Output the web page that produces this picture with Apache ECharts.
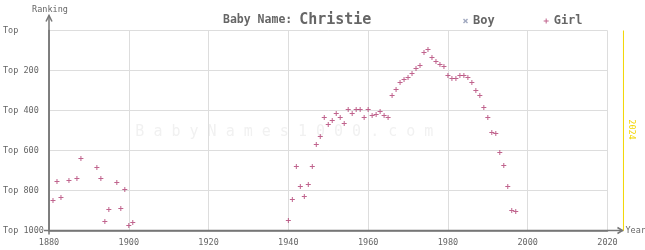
<!DOCTYPE html>
<html>
<head>
<meta charset="utf-8">
<script src="https://cdn.jsdelivr.net/npm/echarts@6/dist/echarts.min.js"></script>
<style>
  html, body { margin: 0; padding: 0; background: #fff; }
  #chart { width: 645px; height: 250px; }
</style>
</head>
<body>
<div id="chart"></div>
<script>
// rankings (Girl only, Boy never ranked)
const girlYears = [
  1881, 1882, 1883, 1885, 1887, 1888, 1892, 1893, 1894, 1895, 1897, 1898, 1899, 1900, 1901,
  1940, 1941, 1942, 1943, 1944, 1945, 1946, 1947, 1948, 1949,
  1950, 1951, 1952, 1953, 1954, 1955, 1956, 1957, 1958, 1959,
  1960, 1961, 1962, 1963, 1964, 1965, 1966, 1967, 1968, 1969,
  1970, 1971, 1972, 1973, 1974, 1975, 1976, 1977, 1978, 1979,
  1980, 1981, 1982, 1983, 1984, 1985, 1986, 1987, 1988, 1989,
  1990, 1991, 1992, 1993, 1994, 1995, 1996, 1997
]
const girlRanks = [
  850, 755, 835, 750, 740, 640, 685, 740, 955, 895, 760, 890, 795, 975, 960,
  950, 845, 680, 780, 830, 770, 680, 570, 530, 435,
  470, 450, 415, 435, 465, 395, 415, 395, 395, 435,
  395, 425, 420, 405, 425, 435, 325, 295, 260, 245,
  235, 215, 190, 175, 110, 95, 135, 155, 170, 180,
  225, 240, 240, 225, 225, 235, 260, 300, 325, 385,
  435, 510, 515, 610, 675, 780, 900, 905
]
const boyYears = []
const boyRanks = []
const currentYear = 2024

const FONT = 'DejaVu Sans Mono'
const GREY = '#666'
const AXIS = '#777'
const PLUS = 'path://M2 0h1v2h2v1h-2v2h-1v-2h-2v-1h2z'
const CROSS = 'path://M0 1L1 0L2.5 1.5L4 0L5 1L3.5 2.5L5 4L4 5L2.5 3.5L1 5L0 4L1.5 2.5Z'

const chart = echarts.init(document.getElementById('chart'), null, { renderer: 'canvas' })

chart.setOption({
  animation: false,
  title: {
    left: 218,
    top: 8,
    text: '{a|Baby Name: }{b|Christie}',
    textStyle: {
      rich: {
        a: { fontFamily: FONT, fontSize: 11.5, fontWeight: 'bold', color: GREY },
        b: { fontFamily: FONT, fontSize: 15, color: GREY }
      }
    }
  },
  legend: {
    left: 458,
    top: 10,
    itemWidth: 5,
    itemHeight: 5,
    itemGap: 49,
    textStyle: { fontFamily: FONT, fontSize: 12, fontWeight: 'bold', color: GREY },
    data: ['Boy', 'Girl']
  },
  grid: { left: 47.5, right: 37.5, top: 30.5, bottom: 19.5 },
  xAxis: {
    type: 'value',
    min: 1880,
    max: 2020,
    interval: 20,
    axisLine: { onZero: false, lineStyle: { color: AXIS, width: 1.5 } },
    axisTick: { show: false },
    axisLabel: { margin: 8, fontFamily: FONT, fontSize: 8.5, color: GREY, formatter: v => String(v) },
    splitLine: { show: true, lineStyle: { color: '#ddd' } }
  },
  yAxis: {
    type: 'value',
    inverse: true,
    min: 0,
    max: 1000,
    interval: 200,
    axisLine: { show: true, onZero: false, lineStyle: { color: AXIS, width: 1.5 } },
    axisTick: { show: false },
    axisLabel: {
      align: 'left',
      margin: 46,
      fontFamily: FONT,
      fontSize: 8.5,
      color: GREY,
      formatter: v => (v === 0 ? 'Top' : 'Top ' + v)
    },
    splitLine: { show: true, lineStyle: { color: '#ddd' } }
  },
  series: [
    {
      name: 'Boy',
      type: 'scatter',
      symbol: CROSS,
      symbolSize: 4,
      itemStyle: { color: '#8a94b0' },
      data: boyYears.map((y, i) => [y, boyRanks[i]])
    },
    {
      name: 'Girl',
      type: 'scatter',
      symbol: PLUS,
      symbolSize: 5,
      itemStyle: { color: '#b03c70' },
      data: girlYears.map((y, i) => [y, girlRanks[i]])
    }
  ]
})

// axis arrows, watermark and the current-year marker, placed through the scales
const [x0, yBottom] = chart.convertToPixel({ gridIndex: 0 }, [1880, 1000])
const yTop = chart.convertToPixel({ yAxisIndex: 0 }, 0)
const xNow = chart.convertToPixel({ xAxisIndex: 0 }, currentYear)
const xMid = chart.convertToPixel({ xAxisIndex: 0 }, 1940)
const axisStyle = { stroke: AXIS, lineWidth: 1.5, fill: null }

chart.setOption({
  graphic: [
    {
      type: 'text', left: xMid - 153, top: 125, silent: true, z: -1,
      style: {
        text: 'B a b y N a m e s 1 0 0 0 . c o m',
        font: '15px "DejaVu Sans Mono"', fill: '#f1f1f1'
      }
    },
    { type: 'line', shape: { x1: x0 - 5, y1: yBottom, x2: xNow, y2: yBottom }, style: axisStyle },
    { type: 'line', shape: { x1: x0, y1: yBottom + 4, x2: x0, y2: yTop - 15 }, style: axisStyle },
    { type: 'polyline', shape: { points: [[xNow - 6, yBottom - 3], [xNow - 1, yBottom], [xNow - 6, yBottom + 3]] }, style: axisStyle },
    { type: 'polyline', shape: { points: [[x0 - 3, yTop - 9], [x0, yTop - 15], [x0 + 3, yTop - 9]] }, style: axisStyle },
    {
      type: 'text', x: xNow + 2, y: yBottom, silent: true,
      style: { text: 'Year', font: '8.5px "DejaVu Sans Mono"', fill: GREY, verticalAlign: 'middle' }
    },
    {
      type: 'text', x: x0 + 1, y: yTop - 21, silent: true,
      style: { text: 'Ranking', font: '8.5px "DejaVu Sans Mono"', fill: GREY, align: 'center', verticalAlign: 'middle' }
    },
    { type: 'line', shape: { x1: xNow, y1: yTop, x2: xNow, y2: yBottom }, style: { stroke: '#f2d600', lineWidth: 1 } },
    {
      type: 'text', x: xNow + 8, y: (yTop + yBottom) / 2 - 1, rotation: -Math.PI / 2, silent: true,
      style: { text: String(currentYear), font: '8.5px "DejaVu Sans Mono"', fill: '#f2d600', align: 'center', verticalAlign: 'middle' }
    }
  ]
})
</script>
</body>
</html>
